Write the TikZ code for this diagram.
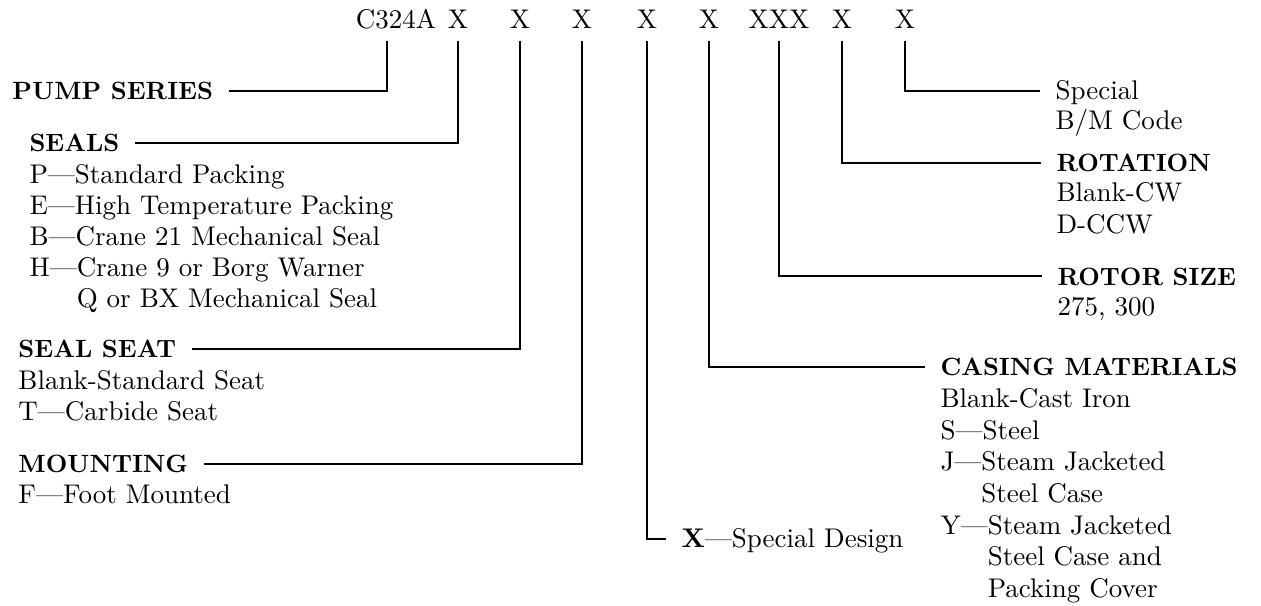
\documentclass[tikz,border=0pt]{standalone}
\usetikzlibrary{positioning}
\newcommand{\itemfont}{\fontsize{10.8}{12.4}\selectfont}
\newcommand{\headfont}{\fontsize{10}{12.4}\selectfont\bfseries}
\tikzset{
  code/.style={inner sep=0pt,anchor=base,font=\itemfont},
  head/.style={inner sep=0pt,anchor=base west,font=\headfont,text height=6.8pt,text depth=0pt},
  % lists are placed by the baseline of their last line
  items/.style={inner sep=0pt,anchor=base west,align=left,font=\itemfont},
  lead/.style={draw=black,line width=0.8pt,shorten <=4.5pt,shorten >=6pt},
}

\begin{document}
\begin{tikzpicture}[x=0.4pt,y=-0.4pt]
\useasboundingbox (0,0) rectangle (1261,606);
% model code
\node[code] (c324a) at (396,29) {C324A};
\node[code] (x1) at (458,29) {X};
\node[code] (x2) at (520,29) {X};
\node[code] (x3) at (582,29) {X};
\node[code] (x4) at (647,29) {X};
\node[code] (x5) at (709,29) {X};
\node[code] (xxx) at (779,29) {XXX};
\node[code] (x7) at (842,29) {X};
\node[code] (x8) at (905,29) {X};
% left side
\node[head] (pump) at (12,100) {PUMP SERIES};
\node[head] (seals) at (29,152) {SEALS};
\node[items] (sealsl) at (29,308) {P---Standard Packing\\E---High Temperature Packing\\
  B---Crane 21 Mechanical Seal\\H---Crane 9 or Borg Warner\\\phantom{H---}Q or BX Mechanical Seal};
\node[head] (seat) at (18,357) {SEAL SEAT};
\node[items] (seatl) at (18,420) {Blank-Standard Seat\\T---Carbide Seat};
\node[head] (mount) at (18,472) {MOUNTING};
\node[items] (mountl) at (18,503) {F---Foot Mounted};
% right side
\node[head,font=\itemfont] (design) at (681,547) {\textbf{X}---Special Design};
\node[head] (casing) at (940,375) {CASING MATERIALS};
\node[items,font=\fontsize{10.8}{12.6}\selectfont] (casingl) at (940,597) {Blank-Cast Iron\\S---Steel\\J---Steam Jacketed\\
  \phantom{J---}Steel Case\\Y---Steam Jacketed\\\phantom{Y---}Steel Case and\\\phantom{Y---}Packing Cover};
\node[head] (rotor) at (1057,285) {ROTOR SIZE};
\node[items] (rotorl) at (1057,316) {275, 300};
\node[head] (rotation) at (1056,172) {ROTATION};
\node[items] (rotationl) at (1056,233) {Blank-CW\\D-CCW};
\node[head,font=\itemfont\mdseries] (special) at (1055,100) {Special};
\node[items] (speciall) at (1055,130) {B/M Code};
% leaders
\draw[lead] ([xshift=-3.6pt]c324a.south) |- (pump.east);
\draw[lead] (x1.south) |- (seals.east);
\draw[lead] (x2.south) |- (seat.east);
\draw[lead] (x3.south) |- (mount.east);
\draw[lead] (x4.south) |- (design.west);
\draw[lead] (x5.south) |- (casing.west);
\draw[lead] (xxx.south) |- (rotor.west);
\draw[lead] (x7.south) |- (rotation.west);
\draw[lead] (x8.south) |- (special.west);
\end{tikzpicture}
\end{document}
